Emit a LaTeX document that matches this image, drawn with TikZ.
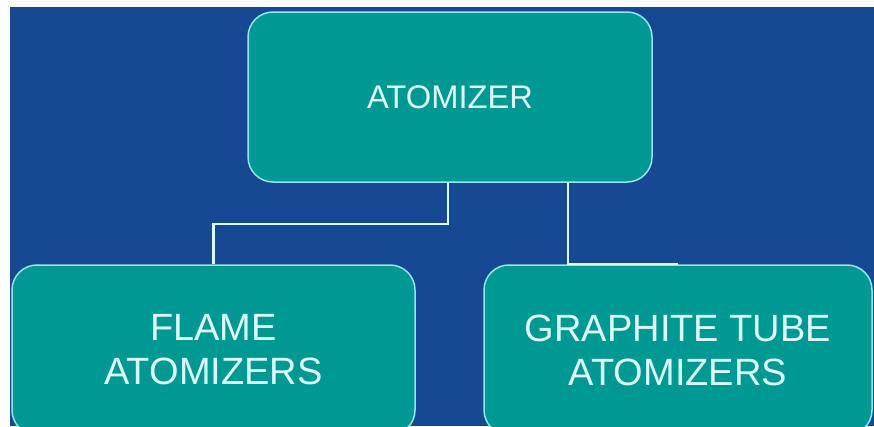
\documentclass[tikz,border=0pt]{standalone}
\usepackage{fontspec}
\setmainfont{Liberation Sans}
\definecolor{SlideBlue}{RGB}{22,72,148}
\definecolor{BoxTeal}{RGB}{0,152,146}
\definecolor{EdgeCyan}{RGB}{150,228,236}
\definecolor{TextCyan}{RGB}{220,250,250}
\tikzset{
	box/.style={draw=EdgeCyan, line width=1.5pt, fill=BoxTeal, rounded corners=25pt,
		text=TextCyan, align=center, inner sep=0pt},
	conn/.style={draw=TextCyan, line width=2.2pt}
}
\begin{document}
\begin{tikzpicture}[x=1pt, y=-1pt]
		% Frame
		\useasboundingbox (0,0) rectangle (874,426);
		\clip (0,0) rectangle (874,426);
		\fill[white] (0,0) rectangle (874,426);
		\fill[SlideBlue] (10,7) rectangle (874,426);

		% Boxes
		\node[box, minimum width=404pt, minimum height=170pt, font=\fontsize{32.7}{38}\selectfont] (Atomizer) at (450,97) {ATOMIZER};
		\node[box, minimum width=403pt, minimum height=170pt, font=\fontsize{38}{44}\selectfont] (FlameAtomizer) at (213.5,350) {FLAME\\ATOMIZERS};
		\node[box, minimum width=388pt, minimum height=170pt, font=\fontsize{38}{44}\selectfont] (GraphiteAtomizer) at (678,350) {GRAPHITE TUBE\\ATOMIZERS};

		% Lines
		\draw[conn] ([xshift=-2pt]Atomizer.south) -- ++(0,41) -| (FlameAtomizer.north);
		\draw[conn] ([xshift=118pt]Atomizer.south) |- (GraphiteAtomizer.north);
\end{tikzpicture}
\end{document}
